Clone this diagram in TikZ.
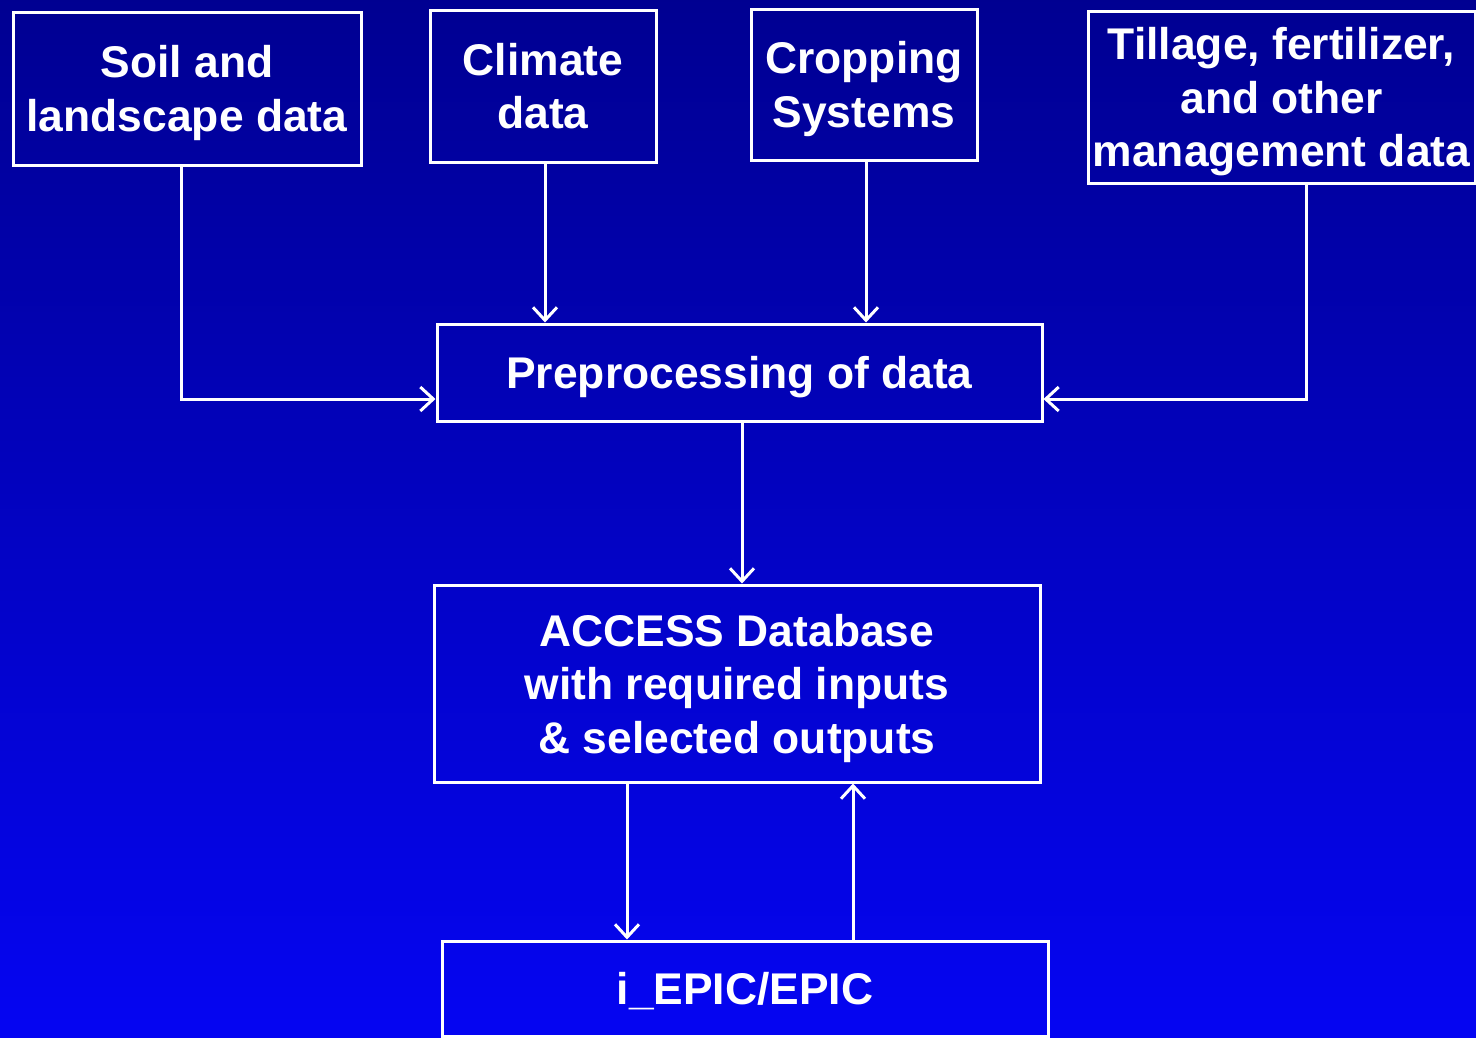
\documentclass[tikz,border=0pt]{standalone}
\usepackage{fontspec}
\setmainfont{Liberation Sans}
\usepackage{tikz}
\usetikzlibrary{calc}
\usetikzlibrary{arrows.meta}
\tikzstyle{box}=[draw=w,line width=3pt,inner sep=0pt,align=center,text=w,text depth=0pt,font=\fontsize{44.4}{53.5}\selectfont\bfseries]
\definecolor{w}{rgb}{1,1,1}
\definecolor{t}{rgb}{0,0,0.57}
\definecolor{b}{rgb}{0.02,0.02,0.95}

\begin{document}
\begin{tikzpicture}[x=1pt,y=1pt,->,>={Straight Barb[length=13pt,width=24pt]},line width=3pt,draw=w]
	\useasboundingbox (0,0) rectangle (1476,-1037);
	\shade[top color=t,bottom color=b,draw=none] (0,0) rectangle (1476,-1037);
	% inputs
	\node[box,minimum width=348,minimum height=153] (soil) at (187,-88.5) {Soil and\\landscape data};
	\node[box,minimum width=226,minimum height=152] (clim) at (543,-86) {Climate\\data};
	\node[box,minimum width=226,minimum height=151] (crop) at (864,-84.5) {Cropping\\Systems};
	\node[box,minimum width=387,minimum height=172] (till) at (1281.5,-97) {Tillage, fertilizer,\\and other\\management data};
	% processing chain
	\node[box,minimum width=605,minimum height=97] (prep) at (739.5,-372.5) {Preprocessing of data};
	\node[box,minimum width=606,minimum height=197] (acc) at (737,-683.5) {ACCESS Database\\with required inputs\\\& selected outputs};
	\node[box,minimum width=606,minimum height=95] (epic) at (745,-988.5) {i\_EPIC/EPIC};
	\draw[w]	([xshift=-6]soil.south)	|- ([yshift=-26.5]prep.west);
	\draw[w]	([xshift=2]clim.south)	-- ([xshift=2]clim.south |- prep.north);
	\draw[w]	([xshift=2]crop.south)	-- ([xshift=2]crop.south |- prep.north);
	\draw[w]	([xshift=24.5]till.south)	|- ([yshift=-26.5]prep.east);
	\draw[w]	([xshift=2.5]prep.south)	-- ([xshift=2.5]prep.south |- acc.north);
	\draw[w]	([xshift=-110]acc.south)	-- ([xshift=-110]acc.south |- epic.north);
	\draw[w]	([xshift=108]epic.north)	-- ([xshift=108]epic.north |- acc.south);
\end{tikzpicture}
\end{document}
